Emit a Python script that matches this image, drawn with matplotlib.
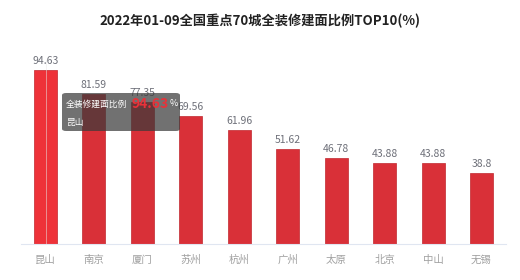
import matplotlib
matplotlib.use("Agg")
import matplotlib.pyplot as plt
from matplotlib.patches import FancyBboxPatch

plt.rcParams['font.family'] = ['Noto Sans CJK SC', 'DejaVu Sans']

# data
cities = ["昆山", "南京", "厦门", "苏州", "杭州", "广州", "太原", "北京", "中山", "无锡"]
values = [94.63, 81.59, 77.35, 69.56, 61.96, 51.62, 46.78, 43.88, 43.88, 38.8]
title = "2022年01-09全国重点70城全装修建面比例TOP10(%)"
tip_name = "全装修建面比例"

fig = plt.figure(figsize=(5.2, 2.8), dpi=100)
ax = fig.add_axes([0.041, 0.1286, 0.9315, 0.657])

x = list(range(len(cities)))
colors = ["#EE3239"] + ["#D93038"] * (len(cities) - 1)
bars = ax.bar(x, values, width=0.475, color=colors, edgecolor="#C0272E", linewidth=0.5, zorder=2)

for xi, v in zip(x, values):
    ax.text(xi, v + 2.2, f"{v:g}", ha="center", va="bottom", fontsize=7.5, color="#6E7079")

ax.set_xlim(-0.5, len(cities) - 0.5)
ax.set_ylim(0, 100)
ax.set_xticks(x)
ax.set_xticklabels(cities, fontsize=7.5, color="#A0A0A0")
ax.tick_params(axis="x", length=0, pad=8)
ax.set_yticks([])
for s in ["top", "right", "left"]:
    ax.spines[s].set_visible(False)
ax.spines["bottom"].set_color("#E0E6F1")
ax.spines["bottom"].set_linewidth(0.8)

# hover pointer line
ax.axvline(0, color="#E8E8E8", linewidth=0.6, zorder=3, alpha=0.6)

fig.text(0.5, 0.925, title, ha="center", va="center", fontsize=9.5, fontweight="bold", color="#222222")

# tooltip
box = FancyBboxPatch((62 / 520, 1 - 131 / 280), 118 / 520, 38 / 280,
                     boxstyle="round,pad=0,rounding_size=0.008",
                     transform=fig.transFigure, facecolor="#3A3A3A", alpha=0.72,
                     edgecolor="none", zorder=10)
fig.add_artist(box)
fig.text(66 / 520, 1 - 104 / 280, tip_name, ha="left", va="center", fontsize=6.3, color="white", zorder=11)
fig.text(132 / 520, 1 - 104 / 280, f"{values[0]:g}", ha="left", va="center", fontsize=10,
         fontweight="bold", color="#E8323A", zorder=11)
fig.text(170 / 520, 1 - 104 / 280, "%", ha="left", va="center", fontsize=6.5, color="white", zorder=11)
fig.text(66 / 520, 1 - 122 / 280, cities[0], ha="left", va="center", fontsize=6.3, color="white", zorder=11)

fig.savefig("out.png", dpi=100, facecolor="white")
